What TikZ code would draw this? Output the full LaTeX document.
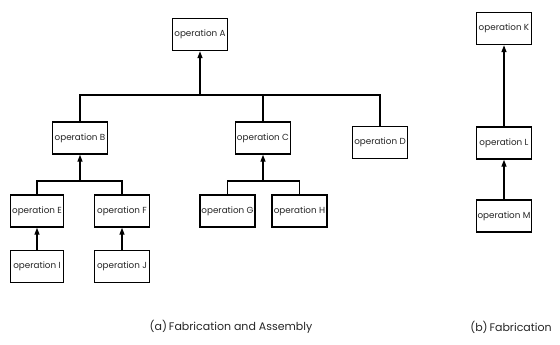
\documentclass[tikz,border=0pt]{standalone}
\usepackage{fontspec}
\setmainfont{Poppins}
\usetikzlibrary{arrows.meta,positioning}

\tikzset{
    opbox/.style={draw, line width=1.4pt, minimum width=55, minimum height=32, inner sep=0.5pt, text=black!85, font=\fontsize{8.8}{9}\selectfont},
    link/.style={line width=1.3pt},
    uplink/.style={line width=1.3pt, -{Triangle[length=7pt,width=5pt]}}
}

\begin{document}
\begin{tikzpicture}[x=1pt,y=-1pt]
        \useasboundingbox (0,0) rectangle (560,345);

        % (a) Fabrication and Assembly
        \node[opbox] (A) at (200,34.5) {operation A};
        \node[opbox] (B) at (80,138) {operation B};
        \node[opbox] (C) at (263,138) {operation C};
        \node[opbox] (D) at (380,142.5) {operation D};
        \node[opbox, minimum width=53] (E) at (37,211) {operation E};
        \node[opbox] (F) at (122,211) {operation F};
        \node[opbox] (G) at (227.5,211) {operation G};
        \node[opbox] (H) at (299.5,211) {operation H};
        \node[opbox, minimum width=53] (I) at (37,266.5) {operation I};
        \node[opbox] (J) at (122,266.5) {operation J};

        % junctions
        \coordinate (barA) at (200,95);
        \coordinate (barB) at (80,181);
        \coordinate (barC) at (263,181);

        \draw[link] (B.north) |- (barA);
        \draw[link] (D.north) |- (barA);
        \draw[link] (C.north) -- (C.north |- barA);
        \draw[uplink] (barA) -- (A.south);

        \draw[link] (E.north) |- (barB);
        \draw[link] (F.north) |- (barB);
        \draw[uplink] (barB) -- (B.south);

        \draw[link] (G.north) |- (barC);
        \draw[link] (H.north) |- (barC);
        \draw[uplink] (barC) -- (C.south);

        \draw[uplink] (I) -- (E);
        \draw[uplink] (J) -- (F);

        % (b) Fabrication
        \node[opbox] (K) at (504,28.5) {operation K};
        \node[opbox] (L) at (504,143) {operation L};
        \node[opbox] (M) at (504,216) {operation M};
        \draw[uplink] (L) -- (K);
        \draw[uplink] (M) -- (L);

        % captions
        \node[text=black!85, font=\fontsize{11}{13}\selectfont] (capa) at (231,327) {(a)\,Fabrication and Assembly};
        \node[text=black!85, font=\fontsize{11}{13}\selectfont] (capb) at (511,327) {(b)\,Fabrication};
\end{tikzpicture}
\end{document}
